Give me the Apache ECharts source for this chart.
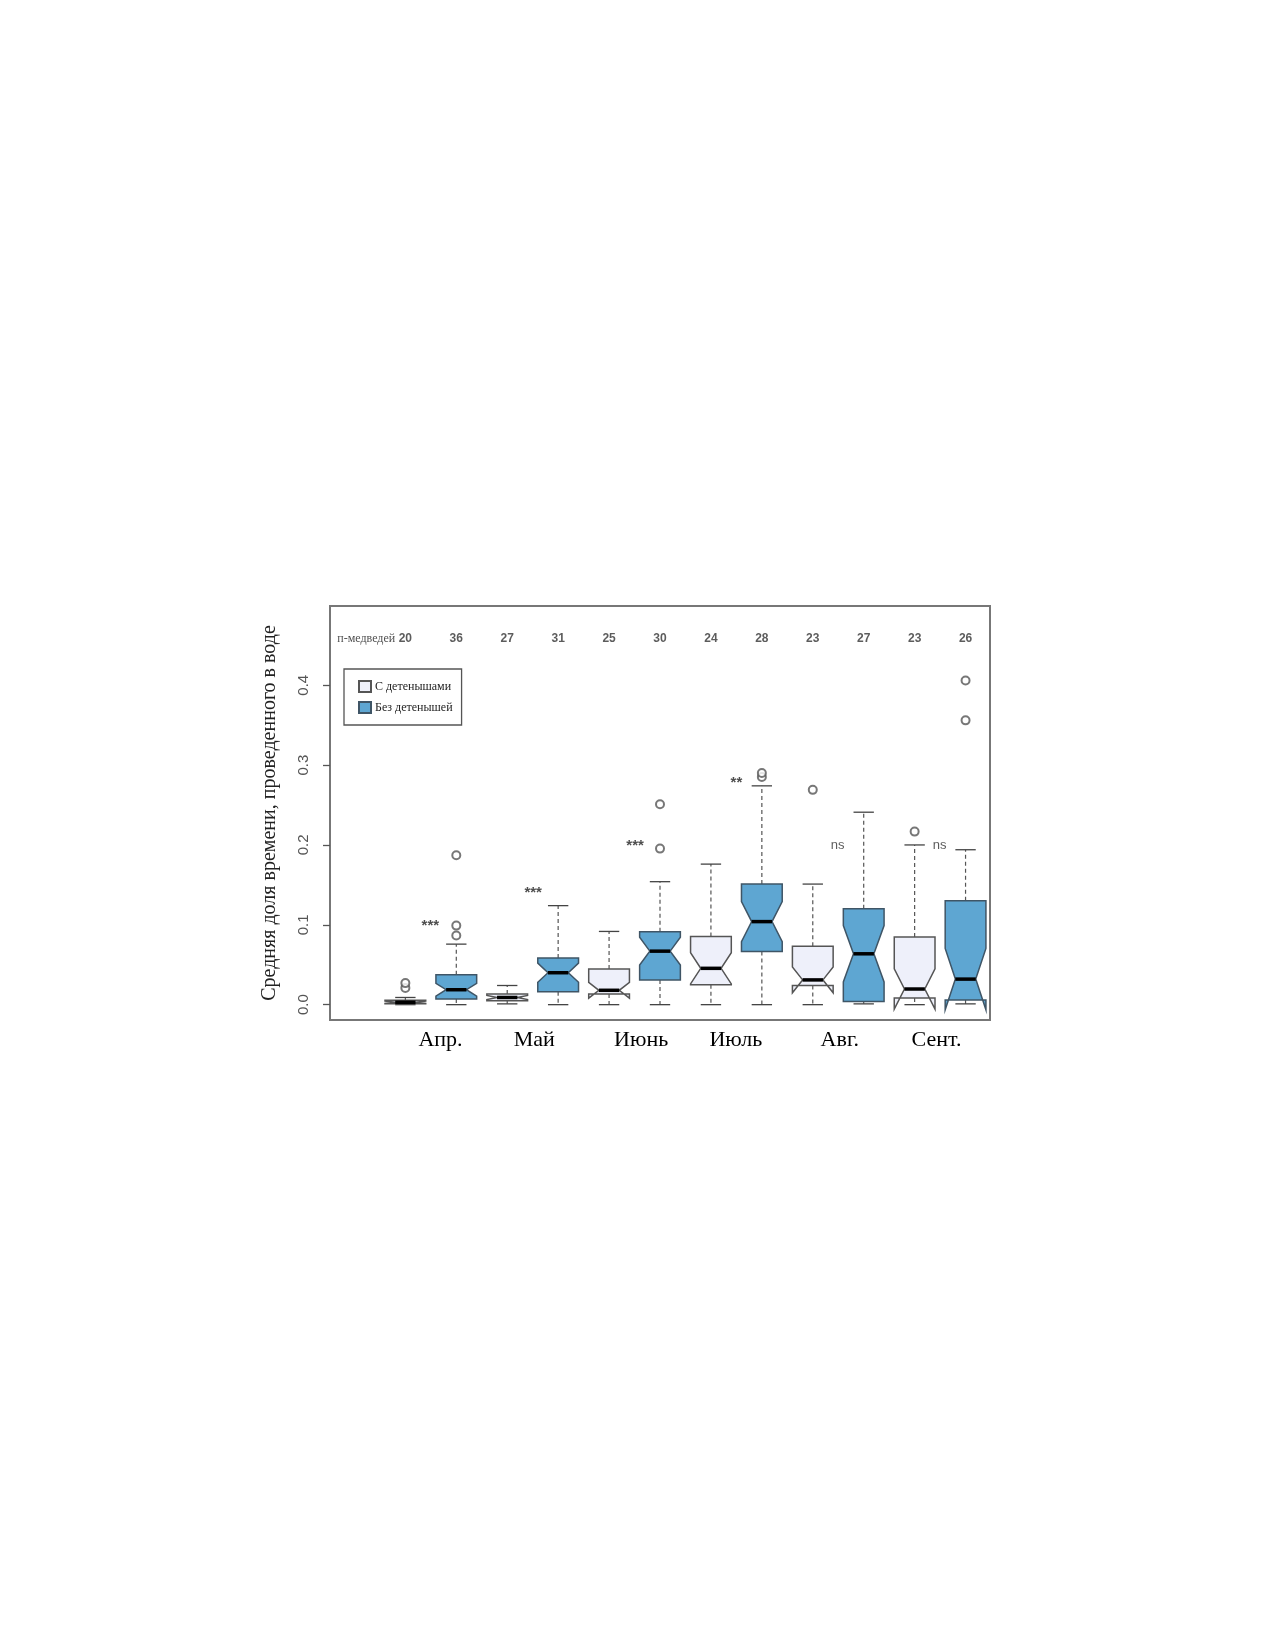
<!DOCTYPE html>
<html>
<head>
<meta charset="utf-8">
<script src="https://cdn.jsdelivr.net/npm/echarts@6/dist/echarts.min.js"></script>
<style>
html,body{margin:0;padding:0;background:#fff;}
#chart{width:1275px;height:1650px;}
</style>
</head>
<body>
<div id="chart"></div>
<script>
// ---- data ----
const months = ['Апр.', 'Май', 'Июнь', 'Июль', 'Авг.', 'Сент.'];
const monthLabelPos = [1.69, 3.53, 5.63, 7.49, 9.53, 11.43];
const withPos = [1, 3, 5, 7, 9, 11];
const withoutPos = [2, 4, 6, 8, 10, 12];
const nWith = [20, 27, 25, 24, 23, 23];
const nWithout = [36, 31, 30, 28, 27, 26];
// [lower whisker, Q1, median, Q3, upper whisker]
const statsWith = [
  [0.000, 0.0010, 0.0030, 0.0054, 0.009],
  [0.001, 0.0050, 0.0090, 0.0133, 0.024],
  [0.000, 0.0133, 0.0180, 0.0446, 0.0917],
  [0.000, 0.0250, 0.0455, 0.0854, 0.176],
  [0.000, 0.0240, 0.0310, 0.0730, 0.151],
  [0.000, 0.0083, 0.0196, 0.0846, 0.200]
];
const statsWithout = [
  [0.000, 0.0070, 0.0187, 0.0375, 0.0758],
  [0.000, 0.0163, 0.0400, 0.0585, 0.124],
  [0.000, 0.0310, 0.0670, 0.0912, 0.154],
  [0.000, 0.0667, 0.1040, 0.1510, 0.274],
  [0.001, 0.0040, 0.0637, 0.1200, 0.241],
  [0.001, 0.0060, 0.0320, 0.1300, 0.194]
];
const outliersWith = [[0.021, 0.027], [], [], [], [0.269], [0.2167]];
const outliersWithout = [[0.0867, 0.099, 0.187], [], [0.1954, 0.251], [0.285, 0.290], [], [0.356, 0.406]];
const sigLabels = ['***', '***', '***', '**', 'ns', 'ns'];
const sigPos = [1.49, 3.51, 5.51, 7.50, 9.49, 11.49];
const sigY = [0.099, 0.1396, 0.199, 0.278, 0.199, 0.200];
const nLabelY = 0.458;
const yTicks = [0, 0.1, 0.2, 0.3, 0.4];
const seriesNames = ['С детенышами', 'Без детенышей'];

// ---- build ----
const FILL_W = '#eef0fa', STROKE_W = '#555555';
const FILL_B = '#5ea6d2', STROKE_B = '#3f5566';

function boxData(pos, stats, ns) {
  return pos.map((p, i) => [p].concat(stats[i]).concat([ns[i]]));
}
function outlierData(pos, outs) {
  const d = [];
  pos.forEach((p, i) => outs[i].forEach(v => d.push([p, v])));
  return d;
}

function makeRender(fill, stroke) {
  return function (params, api) {
    const x = api.value(0);
    const lo = api.value(1), q1 = api.value(2), med = api.value(3), q3 = api.value(4), hi = api.value(5), n = api.value(6);
    const halfW = api.size([0.8, 0])[0] / 2;
    const capHalf = api.size([0.4, 0])[0] / 2;
    const cx = api.coord([x, med])[0];
    const py = v => api.coord([x, v])[1];
    const notch = 1.58 * (q3 - q1) / Math.sqrt(n);
    const cLo = med - notch, cHi = med + notch;
    const nf = 0.5;
    const pts = [
      [cx - halfW, py(q1)], [cx + halfW, py(q1)], [cx + halfW, py(cLo)],
      [cx + halfW * nf, py(med)], [cx + halfW, py(cHi)], [cx + halfW, py(q3)],
      [cx - halfW, py(q3)], [cx - halfW, py(cHi)], [cx - halfW * nf, py(med)],
      [cx - halfW, py(cLo)]
    ];
    const dash = { stroke: '#555', lineWidth: 1.2, lineDash: [4, 3] };
    const solid = { stroke: '#444', lineWidth: 1.3 };
    return {
      type: 'group',
      children: [
        { type: 'line', shape: { x1: cx, y1: py(q3), x2: cx, y2: py(hi) }, style: dash },
        { type: 'line', shape: { x1: cx, y1: py(q1), x2: cx, y2: py(lo) }, style: dash },
        { type: 'line', shape: { x1: cx - capHalf, y1: py(hi), x2: cx + capHalf, y2: py(hi) }, style: solid },
        { type: 'line', shape: { x1: cx - capHalf, y1: py(lo), x2: cx + capHalf, y2: py(lo) }, style: solid },
        { type: 'polygon', shape: { points: pts }, style: { fill: fill, stroke: stroke, lineWidth: 1.5 } },
        { type: 'line', shape: { x1: cx - halfW * nf, y1: py(med), x2: cx + halfW * nf, y2: py(med) }, style: { stroke: '#000', lineWidth: 3.5 } }
      ]
    };
  };
}

const textPoint = (fs, color, weight, family) => ({
  type: 'scatter',
  symbolSize: 1,
  itemStyle: { color: 'rgba(0,0,0,0)' },
  silent: true,
  label: {
    show: true, position: 'inside',
    formatter: p => p.value[2],
    fontSize: fs, color: color, fontWeight: weight, fontFamily: family
  }
});

const nData = [];
withPos.forEach((p, i) => nData.push([p, nLabelY, String(nWith[i])]));
withoutPos.forEach((p, i) => nData.push([p, nLabelY, String(nWithout[i])]));
const starData = [], nsData = [];
sigPos.forEach((p, i) => (sigLabels[i] === 'ns' ? nsData : starData).push([p, sigY[i], sigLabels[i]]));

const chart = echarts.init(document.getElementById('chart'));
chart.setOption({
  animation: false,
  backgroundColor: '#fff',
  grid: { left: 330, right: 285, top: 606, bottom: 630, show: true, borderColor: '#777', borderWidth: 2, backgroundColor: 'transparent' },
  legend: {
    data: seriesNames,
    orient: 'vertical',
    left: 344, top: 669,
    itemWidth: 12, itemHeight: 11, itemGap: 8,
    padding: [11, 9, 11, 14],
    borderColor: '#555', borderWidth: 1.3,
    icon: 'rect',
    textStyle: { fontFamily: 'Liberation Serif', fontSize: 12, color: '#222', padding: [0, 0, 0, -1] }
  },
  xAxis: {
    type: 'value', min: -0.48, max: 12.48,
    axisLine: { show: false, onZero: false }, axisTick: { show: false }, splitLine: { show: false },
    axisLabel: {
      customValues: monthLabelPos,
      formatter: v => months[monthLabelPos.indexOf(v)],
      fontFamily: 'Liberation Serif', fontSize: 22, color: '#000', margin: 9
    }
  },
  yAxis: {
    type: 'value', min: -0.0192, max: 0.4992,
    name: 'Средняя доля времени, проведенного в воде',
    nameLocation: 'middle', nameGap: 50, nameMoveOverlap: false,
    nameTextStyle: { fontFamily: 'Liberation Serif', fontSize: 20, color: '#222' },
    axisLine: { show: false, onZero: false },
    axisTick: { show: true, customValues: yTicks, length: 7, lineStyle: { color: '#555', width: 1.3 } },
    splitLine: { show: false },
    axisLabel: {
      customValues: yTicks, rotate: 90,
      formatter: v => v.toFixed(1),
      fontFamily: 'Liberation Sans', fontSize: 15, color: '#555', margin: 19
    }
  },
  series: [
    {
      name: seriesNames[0], type: 'custom', renderItem: makeRender(FILL_W, STROKE_W),
      itemStyle: { color: FILL_W, borderColor: STROKE_W, borderWidth: 1.3 },
      encode: { x: 0, y: [1, 2, 3, 4, 5] },
      data: boxData(withPos, statsWith, nWith), z: 3
    },
    {
      name: seriesNames[1], type: 'custom', renderItem: makeRender(FILL_B, STROKE_B),
      itemStyle: { color: FILL_B, borderColor: STROKE_B, borderWidth: 1.3 },
      encode: { x: 0, y: [1, 2, 3, 4, 5] },
      data: boxData(withoutPos, statsWithout, nWithout), z: 3
    },
    {
      type: 'scatter', symbol: 'emptyCircle', symbolSize: 8,
      itemStyle: { color: '#555', borderColor: '#555', borderWidth: 1.3 },
      data: outlierData(withPos, outliersWith).concat(outlierData(withoutPos, outliersWithout)), z: 4
    },
    Object.assign(textPoint(12, '#333', 'bold', 'Liberation Sans'), { data: nData }),
    Object.assign(textPoint(15, '#222', 'bold', 'Liberation Sans'), { data: starData }),
    Object.assign(textPoint(13, '#333', 'normal', 'Liberation Sans'), { data: nsData }),
    {
      type: 'scatter', symbolSize: 1, itemStyle: { color: 'rgba(0,0,0,0)' }, silent: true,
      data: [[0.81, nLabelY, 'п-медведей']],
      label: { show: true, position: 'left', distance: 0, formatter: p => p.value[2], fontFamily: 'Liberation Serif', fontSize: 12, color: '#222' }
    }
  ]
});
</script>
</body>
</html>
